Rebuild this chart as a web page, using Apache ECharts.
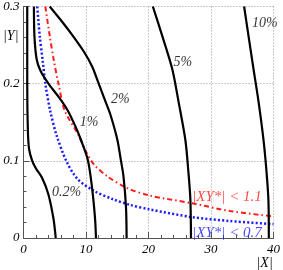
<!DOCTYPE html>
<html><head><meta charset="utf-8">
<script src="https://cdn.jsdelivr.net/npm/echarts@6/dist/echarts.min.js"></script>
<style>html,body{margin:0;padding:0;background:#fff}#c{width:283px;height:270px}</style>
</head><body><div id="c"></div>
<script>
// Contour curves [|X|, |Y|]
const c02 = [[0.6,0.3],[0.6,0.2],[0.7,0.14],[0.9,0.115],[1.4,0.1],[2.0,0.09],[2.97,0.078],[4.0,0.056],[4.8,0.025],[5.1,0.005],[5.15,0]];
const c1 = [[1.67,0.3],[1.75,0.262],[2.1,0.232],[2.7,0.217],[4.0,0.2],[5.8,0.181],[7.1,0.165],[8.4,0.143],[9.2,0.127],[10.3,0.101],[11.0,0.063],[11.45,0.025],[11.6,0]];
const c2 = [[4.2,0.3],[6.4,0.278],[7.9,0.262],[9.7,0.241],[11.0,0.222],[11.9,0.203],[13.2,0.175],[13.9,0.16],[15.0,0.128],[15.6,0.1],[16.0,0.08],[16.4,0.04],[16.5,0]];
const c5 = [[20.7,0.3],[22.2,0.262],[23.8,0.219],[24.8,0.177],[25.9,0.127],[26.4,0.084],[26.7,0.05],[26.8,0]];
const c10 = [[35.3,0.3],[36.0,0.262],[36.8,0.219],[37.6,0.177],[38.4,0.127],[38.9,0.084],[39.2,0.046],[39.25,0]];
const red11 = [[3.5,0.3],[4.2,0.262],[4.9,0.228],[5.6,0.2],[6.6,0.165],[8.7,0.135],[10,0.112],[11.3,0.095],[13.4,0.080],[16.5,0.065],[20.2,0.055],[27,0.045],[33,0.035],[40,0.028]];
const blue07 = [[2.2,0.3],[2.6,0.262],[3.1,0.228],[3.5,0.2],[4.27,0.165],[5.3,0.133],[6.9,0.099],[8.7,0.076],[11.3,0.061],[14.4,0.05],[17.0,0.043],[20.2,0.037],[27,0.027],[33,0.022],[40,0.018]];
const curveLabels = [[6.9,0.0595,'0.2%'],[10.5,0.15,'1%'],[15.5,0.18,'2%'],[25.5,0.228,'5%'],[38.6,0.278,'10%']];
const redLabel = [[27,0.053,'|XY*| < 1.1']];
const blueLabel = [[27,0.006,'|XY*| < 0.7']];
const xTicks = [0,10,20,30,40];
const yTicks = [0,0.1,0.2,0.3];

const F = 'Liberation Serif';
const blk = d => ({type:'line',data:d,smooth:0.3,symbol:'none',lineStyle:{color:'#000',width:2.2},z:3});
const lbl = (d,color,size) => ({type:'scatter',data:d,symbolSize:0,silent:true,z:5,
  label:{show:true,position:'inside',formatter:p=>p.data[2],fontFamily:F,fontStyle:'italic',fontSize:size,color:color}});
const chart = echarts.init(document.getElementById('c'));
chart.setOption({
  animation:false,
  grid:{left:21,right:6,top:3,bottom:30},
  xAxis:{type:'value',min:0,max:40,interval:10,name:'|X|',nameLocation:'end',nameGap:-17,
    nameTextStyle:{fontFamily:F,fontStyle:'italic',fontSize:14,color:'#000',align:'left',verticalAlign:'top',padding:[18,0,0,0]},
    axisLine:{lineStyle:{color:'#555',width:1}},
    axisTick:{inside:true,length:6,lineStyle:{color:'#555'}},
    minorTick:{show:true,splitNumber:5,length:3,lineStyle:{color:'#555'}},
    splitLine:{show:true,lineStyle:{color:'#999',type:[1,2],width:1}},
    axisLabel:{fontFamily:F,fontStyle:'italic',fontSize:13,color:'#000',margin:5,formatter:v=>xTicks.includes(v)?String(v):''}},
  yAxis:{type:'value',min:0,max:0.3,interval:0.1,name:'|Y|',nameLocation:'end',nameGap:-37,
    nameTextStyle:{fontFamily:F,fontStyle:'italic',fontSize:14,color:'#000',align:'right',padding:[0,5,0,0]},
    axisLine:{show:true,lineStyle:{color:'#555',width:1}},
    axisTick:{show:true,inside:true,length:6,lineStyle:{color:'#555'}},
    minorTick:{show:true,splitNumber:5,length:3,lineStyle:{color:'#555'}},
    splitLine:{show:true,lineStyle:{color:'#999',type:[1,2],width:1}},
    axisLabel:{fontFamily:F,fontStyle:'italic',fontSize:13,color:'#000',margin:4,
      formatter:v=>{const t=yTicks.find(a=>Math.abs(a-v)<1e-9);return t===undefined?'':String(t);}}},
  series:[
    blk(c02),blk(c1),blk(c2),blk(c5),blk(c10),
    {type:'line',data:red11,smooth:0.3,symbol:'none',lineStyle:{color:'#ff1a1a',width:2,type:[5,3,1.5,3]},z:2},
    {type:'line',data:blue07,smooth:0.3,symbol:'none',lineStyle:{color:'#1a1aff',width:2.5,type:[2,2.2]},z:2},
    lbl(curveLabels,'#000',14),
    {...lbl(redLabel,'#ff1a1a',15),label:{show:true,position:'right',distance:0,formatter:p=>p.data[2],fontFamily:F,fontStyle:'italic',fontSize:15,color:'#ff1a1a'}},
    {...lbl(blueLabel,'#1a1aff',15),label:{show:true,position:'right',distance:0,formatter:p=>p.data[2],fontFamily:F,fontStyle:'italic',fontSize:15,color:'#1a1aff'}}
  ]
});
</script></body></html>
